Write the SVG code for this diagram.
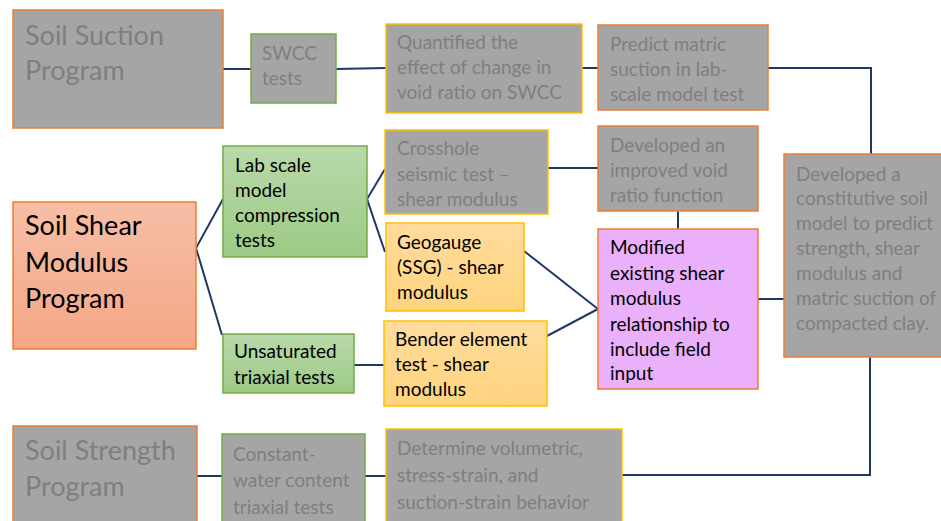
<svg xmlns="http://www.w3.org/2000/svg" width="941" height="521" viewBox="0 0 941 521">
<defs>
<linearGradient id="gGreen" x1="0" y1="0" x2="0" y2="1"><stop offset="0" stop-color="#b9d9aa"/><stop offset="1" stop-color="#9dca85"/></linearGradient>
<linearGradient id="gSalmon" x1="0" y1="0" x2="0" y2="1"><stop offset="0" stop-color="#f6bea7"/><stop offset="1" stop-color="#f5a785"/></linearGradient>
<linearGradient id="gYellow" x1="0" y1="0" x2="0" y2="1"><stop offset="0" stop-color="#ffdc9e"/><stop offset="1" stop-color="#ffd47d"/></linearGradient>
</defs>
<style>
.gray{fill:#a5a5a5}
.so{stroke:#ed7d31;stroke-width:1.5}
.sg{stroke:#70ad47;stroke-width:1.5}
.sy{stroke:#ffc000;stroke-width:1.5}
text{font-family:Lato,"Open Sans","Liberation Sans",sans-serif;font-size:19px}
.tg{fill:#7f7f7f}
.tb{fill:#000}
.big{font-size:27px}
.conn{fill:none;stroke:#1f3864;stroke-width:2}
</style>
<g id="connectors">
<polyline class="conn" points="223,69 251,69"/>
<polyline class="conn" points="336,69 386,68"/>
<polyline class="conn" points="582,68 598,68"/>
<polyline class="conn" points="768,68 871,68 871,154"/>
<polyline class="conn" points="223,199 196,248 222,335"/>
<polyline class="conn" points="385,169 367,199 385,252"/>
<polyline class="conn" points="548,168 598,168"/>
<polyline class="conn" points="678,211 678,229"/>
<polyline class="conn" points="524,251 598,309 547,336"/>
<polyline class="conn" points="354,365 384,365"/>
<polyline class="conn" points="758,299 784,299"/>
<polyline class="conn" points="870,357 870,475 622,475"/>
<polyline class="conn" points="197,476 222,476"/>
<polyline class="conn" points="365,476 386,476"/>
</g>
<g id="soil-suction">
<rect class="gray so" x="13" y="10" width="210" height="118"/>
<text class="tg big" x="25"><tspan x="25" y="45">Soil Suction</tspan><tspan x="25" y="80">Program</tspan></text>
</g>
<g id="swcc">
<rect class="gray sg" x="251" y="34" width="85" height="69"/>
<text class="tg" x="262"><tspan x="262" y="60">SWCC</tspan><tspan x="262" y="85">tests</tspan></text>
</g>
<g id="quantified">
<rect class="gray sy" x="386" y="24" width="196" height="89"/>
<text class="tg" x="397"><tspan x="397" y="49">Quantified the</tspan><tspan x="397" y="74">effect of change in</tspan><tspan x="397" y="99">void ratio on SWCC</tspan></text>
</g>
<g id="predict">
<rect class="gray so" x="598" y="25" width="170" height="85"/>
<text class="tg" x="610"><tspan x="610" y="51">Predict matric</tspan><tspan x="610" y="76">suction in lab-</tspan><tspan x="610" y="101">scale model test</tspan></text>
</g>
<g id="shear-modulus-program">
<rect class="so" fill="url(#gSalmon)" x="13" y="202" width="183" height="147"/>
<text class="tb big" x="25"><tspan x="25" y="235">Soil Shear</tspan><tspan x="25" y="272">Modulus</tspan><tspan x="25" y="308">Program</tspan></text>
</g>
<g id="lab-scale">
<rect class="sg" fill="url(#gGreen)" x="223" y="146" width="144" height="111"/>
<text class="tb" x="235"><tspan x="235" y="172">Lab scale</tspan><tspan x="235" y="197">model</tspan><tspan x="235" y="222">compression</tspan><tspan x="235" y="247">tests</tspan></text>
</g>
<g id="unsaturated">
<rect class="sg" fill="url(#gGreen)" x="223" y="334" width="131" height="59"/>
<text class="tb" x="234"><tspan x="234" y="358">Unsaturated</tspan><tspan x="234" y="384">triaxial tests</tspan></text>
</g>
<g id="crosshole">
<rect class="gray sy" x="385" y="130" width="163" height="84"/>
<text class="tg" x="397"><tspan x="397" y="155">Crosshole</tspan><tspan x="397" y="181">seismic test –</tspan><tspan x="397" y="206">shear modulus</tspan></text>
</g>
<g id="void-ratio">
<rect class="gray so" x="598" y="126" width="160" height="85"/>
<text class="tg" x="610"><tspan x="610" y="152">Developed an</tspan><tspan x="610" y="177">improved void</tspan><tspan x="610" y="202">ratio function</tspan></text>
</g>
<g id="geogauge">
<rect class="sy" fill="url(#gYellow)" x="386" y="223" width="138" height="88"/>
<text class="tb" x="397"><tspan x="397" y="249">Geogauge</tspan><tspan x="397" y="274">(SSG) - shear</tspan><tspan x="397" y="299">modulus</tspan></text>
</g>
<g id="bender">
<rect class="sy" fill="url(#gYellow)" x="384" y="321" width="163" height="85"/>
<text class="tb" x="395"><tspan x="395" y="346">Bender element</tspan><tspan x="395" y="371">test - shear</tspan><tspan x="395" y="396">modulus</tspan></text>
</g>
<g id="modified">
<rect class="so" fill="#ebb0fb" x="598" y="229" width="160" height="160"/>
<text class="tb" x="610"><tspan x="610" y="254">Modified</tspan><tspan x="610" y="280">existing shear</tspan><tspan x="610" y="305">modulus</tspan><tspan x="610" y="331">relationship to</tspan><tspan x="610" y="356">include field</tspan><tspan x="610" y="380">input</tspan></text>
</g>
<g id="constitutive">
<rect class="gray so" x="784" y="154" width="160" height="203"/>
<text class="tg" x="796"><tspan x="796" y="181">Developed a</tspan><tspan x="796" y="205">constitutive soil</tspan><tspan x="796" y="230">model to predict</tspan><tspan x="796" y="255">strength, shear</tspan><tspan x="796" y="280">modulus and</tspan><tspan x="796" y="305">matric suction of</tspan><tspan x="796" y="330">compacted clay.</tspan></text>
</g>
<g id="soil-strength">
<rect class="gray so" x="13" y="426" width="184" height="100"/>
<text class="tg big" x="25"><tspan x="25" y="460">Soil Strength</tspan><tspan x="25" y="496">Program</tspan></text>
</g>
<g id="constant-water">
<rect class="gray sg" x="222" y="434" width="143" height="92"/>
<text class="tg" x="233"><tspan x="233" y="461">Constant-</tspan><tspan x="233" y="487">water content</tspan><tspan x="233" y="514">triaxial tests</tspan></text>
</g>
<g id="determine">
<rect class="gray sy" x="386" y="429" width="236" height="97"/>
<text class="tg" x="397"><tspan x="397" y="455">Determine volumetric,</tspan><tspan x="397" y="482">stress-strain, and</tspan><tspan x="397" y="509">suction-strain behavior</tspan></text>
</g>
</svg>
